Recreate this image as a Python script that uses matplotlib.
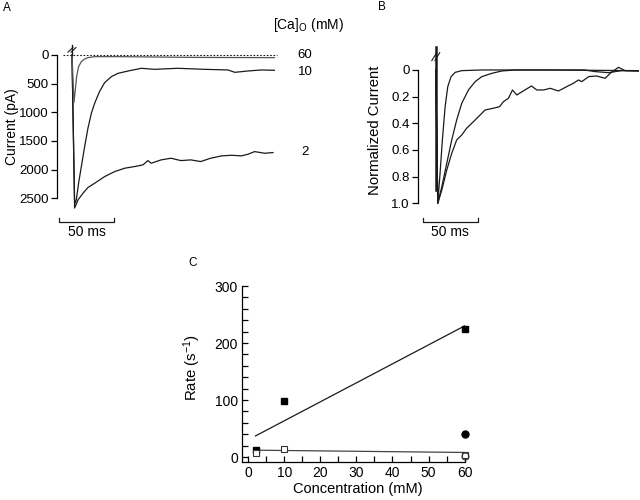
import numpy as np
import matplotlib
matplotlib.use("Agg")
import matplotlib.pyplot as plt

plt.rcParams['font.family'] = ['Liberation Sans', 'DejaVu Sans']
plt.rcParams['mathtext.default'] = 'regular'
plt.rcParams['font.size'] = 8.5

# ---- panel A: raw currents (time in ms from stimulus, current in pA) ----
t60_a = [0, 1.8, 3, 4.2, 6, 8.5, 11.5, 14.5, 20.6, 45, 105, 140, 184]
i60_a = [0, 831, 610, 378, 203, 116, 70, 46, 29, 29, 41, 44, 46]

t10_a = [0, 2.4, 3.9, 6, 8.5, 11.5, 14.5, 17.6, 20.6, 25, 29.7, 35.8, 41.8, 51,
         60, 63, 75, 96, 120.6, 141.8, 148, 160, 172, 184]
i10_a = [0, 2600, 2527, 2237, 1946, 1598, 1278, 1017, 842, 639, 482, 378, 320, 279,
         244, 232, 250, 232, 250, 261, 302, 279, 261, 267]

t2_a = [0, 2.4, 5.5, 10, 14.5, 20.6, 29.7, 38.8, 47.9, 57, 64.5, 69, 72, 81, 90, 99,
        108, 117, 126, 136, 145, 154, 160, 166, 175, 182.7]
i2_a = [0, 2670, 2527, 2411, 2312, 2237, 2121, 2034, 1975, 1946, 1917, 1842, 1888, 1830,
        1801, 1842, 1830, 1859, 1801, 1760, 1749, 1760, 1731, 1685, 1714, 1702]

conc_labels = ['60', '10', '2']
conc_label_y = [0, 296, 1690]
a_ticks = [0, 500, 1000, 1500, 2000, 2500]

# ---- panel B: normalized currents ----
t60_b = [0, 1.8, 3.9, 6, 8.5, 10.9, 13.9, 17.6, 23.6, 42, 100, 150, 184]
n60_b = [0, 1.0, 0.775, 0.525, 0.275, 0.125, 0.05, 0.018, 0.005, 0, 0, 0.003, 0.005]

t10_b = [0, 1.8, 5.5, 10, 14.5, 19, 23.6, 29.7, 35.8, 41.8, 51, 60, 72, 110, 135,
         145, 157, 169, 184]
n10_b = [0, 1.0, 0.875, 0.7, 0.525, 0.375, 0.25, 0.15, 0.0875, 0.05, 0.025, 0.0075, 0,
         0, 0, 0.0125, 0.02, 0.005, 0.007]

t2_b = [0, 1.8, 5.5, 10, 14.5, 19, 23.6, 28, 32.7, 38.8, 44.8, 52, 58, 61.5, 66, 69.7,
        73.6, 81, 87, 91.8, 98, 104, 111.5, 119, 125, 129.7, 132.7, 139, 146, 154,
        158.5, 166, 172, 184]
n2_b = [0, 1.0, 0.9, 0.75, 0.625, 0.525, 0.4875, 0.4375, 0.4, 0.35, 0.3, 0.2875, 0.275,
        0.2375, 0.2125, 0.15, 0.1875, 0.15, 0.12, 0.15, 0.15, 0.1375, 0.1575, 0.125,
        0.1, 0.075, 0.0875, 0.05, 0.045, 0.0625, 0.025, -0.02, 0.005, 0.0075]
b_ticks = [0, 0.2, 0.4, 0.6, 0.8, 1.0]
b_ticklabels = ['0', '0.2', '0.4', '0.6', '0.8', '1.0']

# ---- panel C: rates ----
conc_fast = [2, 10, 60]
rate_fast = [12, 98, 224]
conc_slow = [2, 10, 60]
rate_slow = [7.5, 14.6, 3]
conc_circ_fill = [60]
rate_circ_fill = [40]
conc_circ_open = [60]
rate_circ_open = [2]
fit_fast_x = [2, 60]
fit_fast_y = [37, 230]
fit_slow_x = [2, 60]
fit_slow_y = [12, 8]

scale_ms = 50
lc = '#1a1a1a'

fig = plt.figure(figsize=(6.4, 5), dpi=100)


def scale_bar(ax, x0, y, tick, label_y):
    ax.plot([x0, x0, x0 + scale_ms, x0 + scale_ms], [y - tick, y, y, y - tick],
            color=lc, lw=0.9, clip_on=False)
    ax.text(x0 + scale_ms / 2, label_y, '%d ms' % scale_ms, ha='center', va='center',
            fontsize=10)


def break_marks(ax, x, y, dx, dy, gap):
    for off in (-gap, gap):
        ax.plot([x - dx + off, x + dx + off], [y + dy, y - dy], color=lc, lw=0.8,
                clip_on=False)


# Panel A
axA = fig.add_axes([0.0891, 0.569, 0.35, 0.3554])
axA.plot(t2_a, i2_a, color=lc, lw=0.9)
axA.plot(t10_a, i10_a, color=lc, lw=0.9)
axA.plot(t60_a, i60_a, color='#555555', lw=0.9)
axA.plot([0, 0], [-170, 0], color=lc, lw=1.0)
axA.plot([-8, 186], [0, 0], color=lc, lw=0.8, ls=(0, (1.5, 1.5)))
break_marks(axA, 0, -90, 2.2, 40, 1.4)
axA.set_xlim(-13.6, 190)
axA.set_ylim(2800, -300)
for s in ['top', 'right', 'bottom']:
    axA.spines[s].set_visible(False)
axA.spines['left'].set_bounds(0, 2500)
axA.spines['left'].set_linewidth(0.9)
axA.set_yticks(a_ticks)
axA.set_xticks([])
axA.tick_params(axis='y', direction='out', length=4, width=0.9, pad=2, labelsize=9.5)
axA.set_ylabel('Current (pA)', fontsize=10)
axA.yaxis.set_label_coords(-0.17, 0.498)
scale_bar(axA, -11.8, 2907, 70, 3090)
for lab, yv in zip(conc_labels, conc_label_y):
    axA.text(212, yv, lab, ha='center', va='center', fontsize=9.5)
fig.text(308 / 640, 1 - 25 / 500, '[Ca]$_O$ (mM)', ha='center', va='center', fontsize=10)
fig.text(7 / 640, 1 - 8 / 500, 'A', ha='center', va='center', fontsize=8.5)

# Panel B
axB = fig.add_axes([0.6527, 0.5667, 0.348, 0.3467])
axB.plot(t2_b, n2_b, color=lc, lw=0.9)
axB.plot(t10_b, n10_b, color=lc, lw=0.9)
axB.plot(t60_b, n60_b, color=lc, lw=0.9)
axB.plot([0, 0], [-0.17, 0.9], color=lc, lw=1.8)
break_marks(axB, 0, -0.1, 2.2, 0.03, 1.4)
axB.set_xlim(-16.4, 186)
axB.set_ylim(1.1, -0.2)
for s in ['top', 'right', 'bottom']:
    axB.spines[s].set_visible(False)
axB.spines['left'].set_bounds(0, 1.0)
axB.spines['left'].set_linewidth(0.9)
axB.set_yticks(b_ticks)
axB.set_yticklabels(b_ticklabels)
axB.set_xticks([])
axB.tick_params(axis='y', direction='out', length=4, width=0.9, pad=2, labelsize=9.5)
axB.set_ylabel('Normalized Current', fontsize=10.7)
axB.yaxis.set_label_coords(-0.16, 0.5)
scale_bar(axB, -11.8, 1.138, 0.03, 1.215)
fig.text(382 / 640, 1 - 7 / 500, 'B', ha='center', va='center', fontsize=8.5)

# Panel C
axC = fig.add_axes([0.3781, 0.0766, 0.3484, 0.3514])
axC.plot(fit_fast_x, fit_fast_y, color=lc, lw=0.9)
axC.plot(fit_slow_x, fit_slow_y, color='#444444', lw=0.9)
axC.plot(conc_fast, rate_fast, 's', color='black', ms=4, clip_on=False)
axC.plot(conc_slow, rate_slow, 's', mfc='white', mec='#333333', mew=0.8, ms=4, clip_on=False)
axC.plot(conc_circ_fill, rate_circ_fill, 'o', color='black', ms=5, clip_on=False)
axC.plot(conc_circ_open, rate_circ_open, 'o', mfc='none', mec='#333333', mew=0.8, ms=5,
         clip_on=False)
axC.set_xlim(-1.75, 60.1)
axC.set_ylim(-8.2, 300)
for s in ['top', 'right']:
    axC.spines[s].set_visible(False)
for s in ['left', 'bottom']:
    axC.spines[s].set_linewidth(0.9)
axC.set_xticks(np.arange(0, 61, 10))
axC.set_xticks(np.arange(0, 61, 5), minor=True)
axC.set_yticks([0, 100, 200, 300])
axC.set_yticks(np.arange(0, 301, 20), minor=True)
axC.tick_params(which='both', direction='in', length=4, width=0.9, labelsize=10)
axC.tick_params(axis='y', pad=3)
axC.tick_params(axis='x', pad=3)
axC.set_ylabel('Rate (s$^{-1}$)', fontsize=10.8)
axC.yaxis.set_label_coords(-0.175, 0.535)
axC.set_xlabel('Concentration (mM)', fontsize=10.5)
axC.xaxis.set_label_coords(0.52, -0.118)
fig.text(193 / 640, 1 - 263 / 500, 'C', ha='center', va='center', fontsize=8.5)

fig.savefig('out.png', dpi=100)
